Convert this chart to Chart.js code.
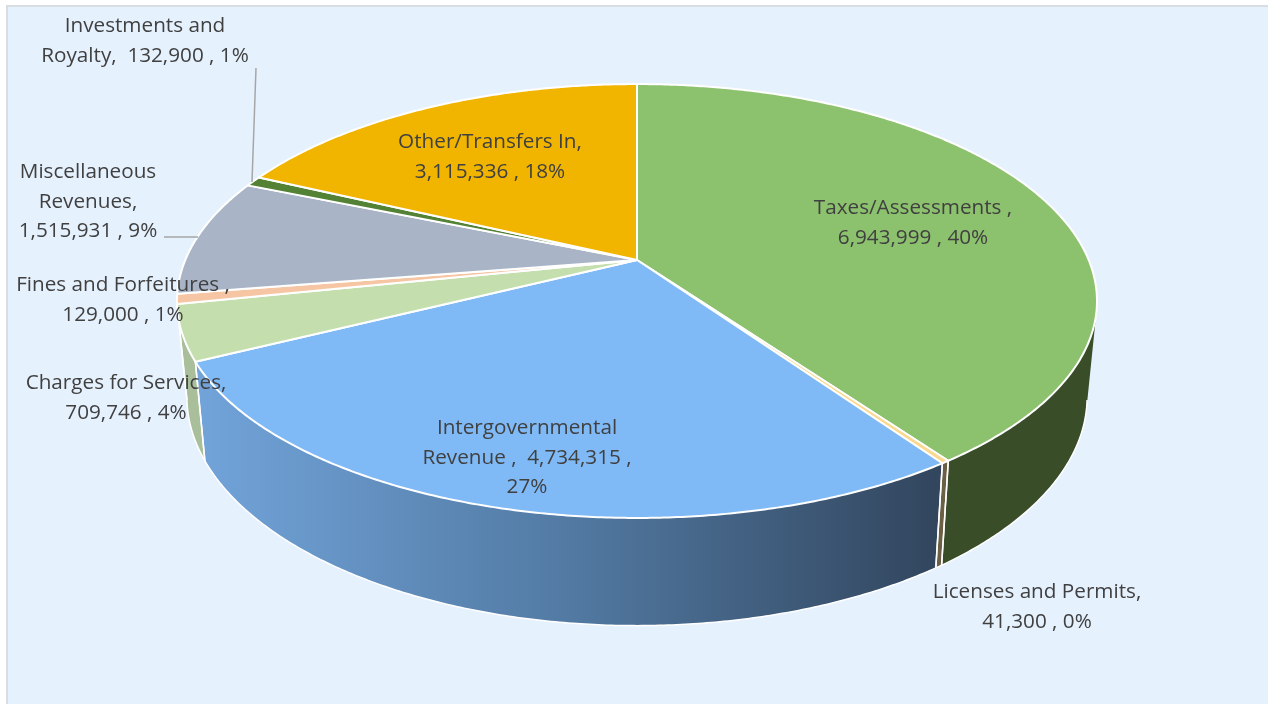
<!DOCTYPE html>
<html lang="en">
<head>
    <meta charset="UTF-8">
    <title>Revenue by Source</title>
    <script src="https://cdn.jsdelivr.net/npm/chart.js@4"></script>
    <style>
    body{
        margin: 0;
        background-color: #fff;
    }
    .panel{
        position: absolute;
        left: 6px;
        top: 5px;
        width: 1260px;
        height: 699px;
        background-color: #e6f1fe;
        border: solid #d9dde2;
        border-width: 2px 1px 0 2px;
    }
    canvas{
        position: absolute;
        left: 0;
        top: 0;
    }
    </style>
</head>
<body>
    <div class="panel"></div>
    <canvas id="revenueChart" width="1268" height="704"></canvas>

    <script>
        const categories = ['Taxes/Assessments', 'Licenses and Permits', 'Intergovernmental Revenue', 'Charges for Services',
            'Fines and Forfeitures', 'Miscellaneous Revenues', 'Investments and Royalty', 'Other/Transfers In'];
        const amounts = [6943999, 41300, 4734315, 709746, 129000, 1515931, 132900, 3115336];

        const labelLines = [
            ['Taxes/Assessments ,', '6,943,999 , 40%'],
            ['Licenses and Permits,', '41,300 , 0%'],
            ['Intergovernmental', 'Revenue ,  4,734,315 ,', '27%'],
            ['Charges for Services,', '709,746 , 4%'],
            ['Fines and Forfeitures ,', '129,000 , 1%'],
            ['Miscellaneous', 'Revenues,', '1,515,931 , 9%'],
            ['Investments and', 'Royalty,  132,900 , 1%'],
            ['Other/Transfers In,', '3,115,336 , 18%']
        ];

        const topColors = ['#8cc16e', '#fbd88f', '#7fbaf7', '#c4dead', '#f6c6a4', '#a9b5c6', '#548235', '#f1b500'];
        const wallColors = ['#3a4d29', '#6b5f45', null, '#a9bf9b', '#a9bf9b', '#8a94a3', '#3f6228', '#b88b00'];

        // label anchor: centre x, first baseline y
        const labelAnchors = [[913, 214], [1037, 598], [527, 434], [126, 389], [123, 291], [88, 178], [145, 32], [490, 148]];
        const lineHeight = 29.5;
        const leaders = [[[256, 68], [252, 182]], [[164, 237], [198, 237]]];

        // perspective of the pie disc
        const view = { cx: 637, tilt: 0.189, topY: 260, topW: 451.7, topH: 209.2, baseY: 353.5, baseW: 442, baseH: 220.7 };
        // rim below this depth is behind the silhouette of the wall
        const rimLimit = 0.2;

        function project(angle, plane) {
            const u = Math.cos(angle), v = Math.sin(angle);
            const d = 1 - view.tilt * v;
            if (plane == 'top') {
                return [view.cx + view.topW * u / d, view.topY + view.topH * v / d];
            }
            return [view.cx + view.baseW * u / d, view.baseY + view.baseH * v / d];
        }

        function sweep(start, end) {
            const steps = Math.max(2, Math.ceil((end - start) / 0.008));
            const angles = [];
            for (let i = 0; i <= steps; i++) {
                angles.push(start + (end - start) * i / steps);
            }
            return angles;
        }

        function wallFill(ctx, index) {
            if (wallColors[index]) return wallColors[index];
            // the big blue slice fades from left to right
            const grad = ctx.createLinearGradient(195, 0, 935, 0);
            grad.addColorStop(0, '#72a4da');
            grad.addColorStop(0.5, '#527aa3');
            grad.addColorStop(1, '#32465e');
            return grad;
        }

        function drawWall(ctx, arc, index) {
            const angles = sweep(arc.startAngle, arc.endAngle);

            // all quads go in one path, same winding, so the fill has no seams
            ctx.beginPath();
            for (let i = 0; i < angles.length - 1; i++) {
                const quad = [project(angles[i], 'top'), project(angles[i + 1], 'top'),
                    project(angles[i + 1], 'base'), project(angles[i], 'base')];
                let area = 0;
                quad.forEach((p, n) => {
                    const q = quad[(n + 1) % 4];
                    area += p[0] * q[1] - q[0] * p[1];
                });
                if (area < 0) quad.reverse();
                quad.forEach((p, n) => {
                    if (n == 0) ctx.moveTo(p[0], p[1]);
                    else ctx.lineTo(p[0], p[1]);
                });
                ctx.closePath();
            }
            ctx.fillStyle = wallFill(ctx, index);
            ctx.fill('nonzero');
        }

        function drawRim(ctx, arc) {
            ctx.strokeStyle = '#fff';
            ctx.lineWidth = 1.5;
            const seen = sweep(arc.startAngle, arc.endAngle).filter(a => Math.sin(a) > rimLimit);
            if (seen.length == 0) return;

            ctx.beginPath();
            seen.forEach((a, i) => {
                const p = project(a, 'base');
                if (i == 0) ctx.moveTo(p[0], p[1]);
                else ctx.lineTo(p[0], p[1]);
            });
            ctx.stroke();

            // joints between neighbouring walls
            [arc.startAngle, arc.endAngle].forEach(a => {
                if (Math.sin(a) <= rimLimit) return;
                const t = project(a, 'top'), b = project(a, 'base');
                ctx.beginPath();
                ctx.moveTo(t[0], t[1]);
                ctx.lineTo(b[0], b[1]);
                ctx.stroke();
            });
        }

        function drawTop(ctx, arc, index) {
            ctx.beginPath();
            ctx.moveTo(view.cx, view.topY);
            sweep(arc.startAngle, arc.endAngle).forEach(a => {
                const p = project(a, 'top');
                ctx.lineTo(p[0], p[1]);
            });
            ctx.closePath();
            ctx.fillStyle = topColors[index];
            ctx.fill();
            ctx.strokeStyle = '#fff';
            ctx.lineWidth = 2;
            ctx.lineJoin = 'round';
            ctx.stroke();
        }

        const pie3d = {
            id: 'pie3d',
            beforeDatasetsDraw(chart) {
                const ctx = chart.ctx;
                const arcs = chart.getDatasetMeta(0).data;

                ctx.save();
                // back slices first so the front walls end up on top
                const order = arcs.map((a, i) => i).sort((a, b) =>
                    Math.sin((arcs[a].startAngle + arcs[a].endAngle) / 2) - Math.sin((arcs[b].startAngle + arcs[b].endAngle) / 2));
                order.forEach(i => drawWall(ctx, arcs[i], i));
                arcs.forEach(arc => drawRim(ctx, arc));
                arcs.forEach((arc, i) => drawTop(ctx, arc, i));
                ctx.restore();
                return false;
            },
            afterDraw(chart) {
                const ctx = chart.ctx;
                ctx.save();
                ctx.strokeStyle = '#a6a6a6';
                ctx.lineWidth = 1.5;
                leaders.forEach(l => {
                    ctx.beginPath();
                    ctx.moveTo(l[0][0], l[0][1]);
                    ctx.lineTo(l[1][0], l[1][1]);
                    ctx.stroke();
                });
                ctx.fillStyle = '#404040';
                ctx.font = '20.7px "Open Sans"';
                ctx.textAlign = 'center';
                labelLines.forEach((lines, i) => {
                    lines.forEach((line, n) => {
                        ctx.fillText(line, labelAnchors[i][0], labelAnchors[i][1] + n * lineHeight);
                    });
                });
                ctx.restore();
            }
        };

        const myChart = new Chart(document.getElementById('revenueChart'), {
            type: 'pie',
            data: {
                labels: categories,
                datasets: [{ data: amounts, backgroundColor: topColors }]
            },
            options: {
                responsive: false,
                animation: false,
                plugins: {
                    legend: { display: false },
                    tooltip: { enabled: false }
                }
            },
            plugins: [pie3d]
        });
    </script>
</body>
</html>
